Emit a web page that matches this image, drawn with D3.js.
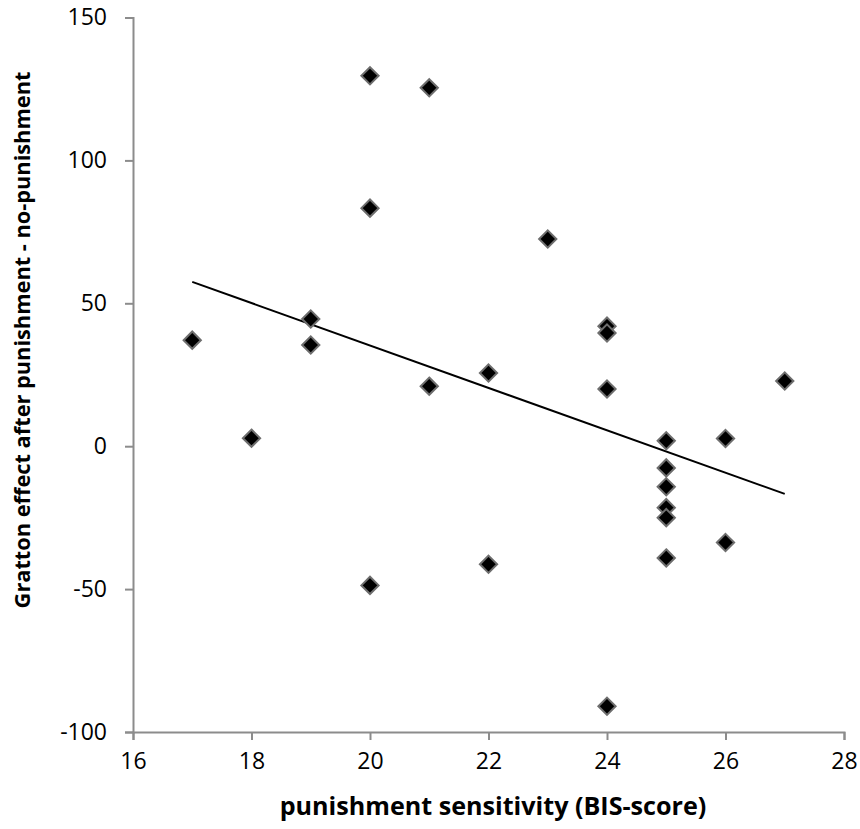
<!DOCTYPE html>
<html>
<head>
<meta charset="utf-8">
<script src="https://cdn.jsdelivr.net/npm/d3@7"></script>
<style>
    body { margin: 0; background: #ffffff; }
    text { font-family: 'Open Sans', Lato, sans-serif; fill: #000000; }
</style>
</head>
<body>
<div id="container"></div>
<script>
// BIS score vs Gratton effect
const bisScore = [17, 18, 19, 19, 20, 20, 20, 21, 21, 22, 22, 23, 24, 24, 24, 24,
    25, 25, 25, 25, 25, 25, 26, 26, 27];
const grattonEffect = [37.1, 2.8, 44.5, 35.4, 129.6, 83.3, -48.7, 125.4, 21, 25.6, -41.3, 72.5,
    42, 39.6, 20, -91, 1.9, -7.6, -14.2, -21.5, -25, -39.1, 2.7, -33.7, 22.8];
const xTicks = [16, 18, 20, 22, 24, 26, 28];
const yTicks = [-100, -50, 0, 50, 100, 150];

const width = 860, height = 829;
const margin = {left: 133, right: 16, top: 17.5, bottom: 97};

const svg = d3.select('#container')
    .append('svg')
    .attr('width', width)
    .attr('height', height);

const x = d3.scaleLinear()
    .domain([16, 28])
    .range([margin.left, width - margin.right]);
const y = d3.scaleLinear()
    .domain([-100, 150])
    .range([height - margin.bottom, margin.top]);

const axisColor = '#8c8c8c';

// x axis
const xAxis = svg.append('g')
    .attr('transform', `translate(0,${y(-100)})`)
    .call(d3.axisBottom(x).tickValues(xTicks).tickFormat(d => String(d))
        .tickSize(8).tickPadding(13).tickSizeOuter(8));
// y axis
const yAxis = svg.append('g')
    .attr('transform', `translate(${x(16)},0)`)
    .call(d3.axisLeft(y).tickValues(yTicks).tickFormat(d => String(d))
        .tickSize(8).tickPadding(18).tickSizeOuter(8));

[xAxis, yAxis].forEach(ax => {
    ax.selectAll('path, line')
        .attr('stroke', axisColor)
        .attr('stroke-width', 2);
    ax.selectAll('text')
        .style('font-family', "'Open Sans', sans-serif")
        .style('font-size', '23px')
        .attr('fill', '#000');
});

// regression line
const mx = d3.mean(bisScore), my = d3.mean(grattonEffect);
let sxy = 0, sxx = 0;
bisScore.forEach((v, i) => {
    sxy += (v - mx) * (grattonEffect[i] - my);
    sxx += (v - mx) * (v - mx);
});
const slope = sxy / sxx;
const intercept = my - slope * mx;
const [x0, x1] = d3.extent(bisScore);
svg.append('line')
    .attr('x1', x(x0))
    .attr('y1', y(intercept + slope * x0))
    .attr('x2', x(x1))
    .attr('y2', y(intercept + slope * x1))
    .attr('stroke', '#000')
    .attr('stroke-width', 2);

// points
const diamond = d3.symbol().type(d3.symbolDiamond2).size(190);
svg.append('g')
    .selectAll('path')
    .data(bisScore)
    .join('path')
    .attr('d', diamond)
    .attr('transform', (d, i) => `translate(${x(d)},${y(grattonEffect[i])})`)
    .attr('fill', '#000')
    .attr('stroke', '#6e6e6e')
    .attr('stroke-width', 2);

// axis titles, sized to the reference widths
function fitText(sel, target) {
    const len = sel.node().getComputedTextLength();
    sel.style('font-size', (20 * target / len) + 'px');
}

const xTitle = svg.append('text')
    .attr('x', 493)
    .attr('y', 815)
    .attr('text-anchor', 'middle')
    .style('font-size', '20px')
    .style('font-weight', 700)
    .text('punishment sensitivity (BIS-score)');
fitText(xTitle, 427);

const yTitle = svg.append('text')
    .attr('transform', 'translate(30,340) rotate(-90)')
    .attr('text-anchor', 'middle')
    .style('font-size', '20px')
    .style('font-weight', 700)
    .text('Gratton effect after punishment - no-punishment');
fitText(yTitle, 537);
</script>
</body>
</html>
